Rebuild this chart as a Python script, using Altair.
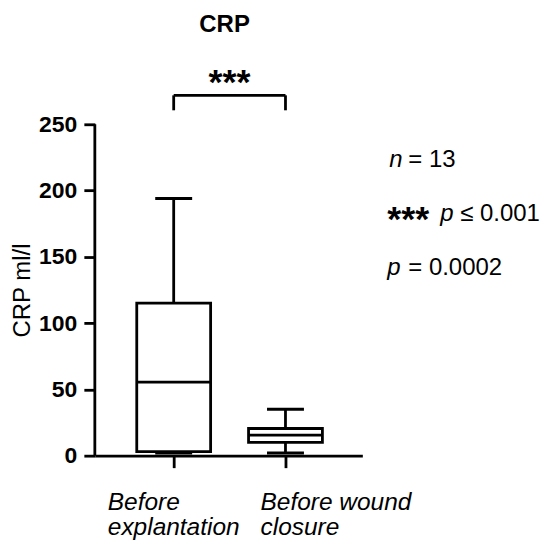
import altair as alt
import pandas as pd

# ---- data ----
groups = ["Before explantation", "Before wound closure"]
label_lines = [["Before", "explantation"], ["Before wound", "closure"]]
mins = [2, 2]
q1s = [3, 10]
medians = [55.5, 15.5]
q3s = [115, 20.5]
maxs = [194, 35]
y_ticks = [0, 50, 100, 150, 200, 250]
title = "CRP"
y_title = "CRP ml/l"
sig_stars = "***"

# ---- layout (pixel geometry) ----
PX_PER_UNIT_Y = 1.328
PLOT_H = 448
Y_MAX = PLOT_H / PX_PER_UNIT_Y
PLOT_W = 268
PX_PER_UNIT_X = 112.0
X0 = 1 - 79 / PX_PER_UNIT_X
X1 = X0 + PLOT_W / PX_PER_UNIT_X
AXIS_PX = 95
BOX_HALF = 37 / PX_PER_UNIT_X
CAP_HALF = 18.5 / PX_PER_UNIT_X
FONT = "Liberation Sans"
FS = 24
FS_TICK = 23
FS_STAR = 36
LW = 2.8


def xd(px):
    return X0 + (px - AXIS_PX) / PX_PER_UNIT_X


def yd(py):
    return (456 - py) / PX_PER_UNIT_Y


pos = [1, 2]
box = pd.DataFrame({
    "group": groups, "c": pos, "lo": mins, "q1": q1s, "med": medians,
    "q3": q3s, "hi": maxs,
})

xscale = alt.Scale(domain=[X0, X1], nice=False, zero=False)
yscale = alt.Scale(domain=[0, Y_MAX], nice=False, zero=False)

base = alt.Chart(box).transform_calculate(
    xl=f"datum.c - {BOX_HALF}", xr=f"datum.c + {BOX_HALF}",
    cl=f"datum.c - {CAP_HALF}", cr=f"datum.c + {CAP_HALF}",
)

axes_layer = base.mark_point(opacity=0).encode(
    x=alt.X("c:Q", scale=xscale, axis=alt.Axis(
        values=pos, labels=False, title=None, grid=False, domainColor="black",
        domainWidth=LW, tickColor="black", tickWidth=LW, tickSize=12)),
    y=alt.Y("med:Q", scale=yscale, axis=alt.Axis(
        values=y_ticks, title=y_title, grid=False, domain=False,
        tickColor="black", tickWidth=LW, tickSize=11, labelPadding=7,
        labelFont=FONT, labelFontSize=FS_TICK, labelFontWeight="bold", labelColor="black",
        titleFont=FONT, titleFontSize=FS, titleFontWeight="normal", titleColor="black",
        titleX=30 - AXIS_PX, titleY=290 - 8, titleAngle=270,
        titleAlign="center", titleBaseline="alphabetic")),
)

yaxis_line = alt.Chart(pd.DataFrame({"a": [0], "b": [y_ticks[-1]]})).mark_rule(
    color="black", strokeWidth=LW).encode(
    x=alt.value(0), y=alt.Y("a:Q", scale=yscale), y2="b:Q")

whisk_hi = base.mark_rule(color="black", strokeWidth=LW).encode(
    x=alt.X("c:Q", scale=xscale), y=alt.Y("q3:Q", scale=yscale), y2="hi:Q")
whisk_lo = base.mark_rule(color="black", strokeWidth=LW).encode(
    x=alt.X("c:Q", scale=xscale), y=alt.Y("lo:Q", scale=yscale), y2="q1:Q")
boxes = base.mark_rect(fill="white", stroke="black", strokeWidth=LW).encode(
    x=alt.X("xl:Q", scale=xscale), x2="xr:Q",
    y=alt.Y("q1:Q", scale=yscale), y2="q3:Q")
med = base.mark_rule(color="black", strokeWidth=LW).encode(
    x=alt.X("xl:Q", scale=xscale), x2="xr:Q", y=alt.Y("med:Q", scale=yscale))
cap_hi = base.mark_rule(color="black", strokeWidth=LW).encode(
    x=alt.X("cl:Q", scale=xscale), x2="cr:Q", y=alt.Y("hi:Q", scale=yscale))
cap_lo = base.mark_rule(color="black", strokeWidth=LW).encode(
    x=alt.X("cl:Q", scale=xscale), x2="cr:Q", y=alt.Y("lo:Q", scale=yscale))

# significance bracket
br_top = yd(95)
br_bot = yd(110)
bracket = pd.DataFrame({
    "x": [pos[0], pos[0], pos[1]], "x2": [pos[1], pos[0], pos[1]],
    "y": [br_top, br_bot, br_bot], "y2": [br_top, br_top, br_top],
})
bracket_layer = alt.Chart(bracket).mark_rule(color="black", strokeWidth=LW).encode(
    x=alt.X("x:Q", scale=xscale), x2="x2:Q", y=alt.Y("y:Q", scale=yscale), y2="y2:Q")

# texts: (text, x px, y px, weight, style, align, size, baseline)
texts = pd.DataFrame([
    {"t": title, "x": xd(225), "y": yd(25), "w": "bold", "s": "normal", "a": "center", "f": FS, "b": "middle"},
    {"t": sig_stars, "x": xd(230), "y": yd(94), "w": "bold", "s": "normal", "a": "center", "f": FS_STAR, "b": "alphabetic"},
    {"t": "n", "x": xd(390), "y": yd(160), "w": "normal", "s": "italic", "a": "left", "f": FS, "b": "middle"},
    {"t": "= 13", "x": xd(409), "y": yd(160), "w": "normal", "s": "normal", "a": "left", "f": FS, "b": "middle"},
    {"t": sig_stars, "x": xd(388), "y": yd(231), "w": "bold", "s": "normal", "a": "left", "f": FS_STAR, "b": "alphabetic"},
    {"t": "p", "x": xd(441), "y": yd(214), "w": "normal", "s": "italic", "a": "left", "f": FS, "b": "middle"},
    {"t": "≤ 0.001", "x": xd(461), "y": yd(214), "w": "normal", "s": "normal", "a": "left", "f": FS, "b": "middle"},
    {"t": "p", "x": xd(388), "y": yd(268), "w": "normal", "s": "italic", "a": "left", "f": FS, "b": "middle"},
    {"t": "= 0.0002", "x": xd(409), "y": yd(268), "w": "normal", "s": "normal", "a": "left", "f": FS, "b": "middle"},
])

# x category labels (two lines each, left aligned)
lab_x = [108, 261]
lab_rows = []
for i, lines in enumerate(label_lines):
    for j, line in enumerate(lines):
        lab_rows.append({"t": line, "x": xd(lab_x[i]), "y": yd(510 + 25 * j), "w": "normal",
                         "s": "italic", "a": "left", "f": 24.5, "b": "alphabetic"})
texts = pd.concat([texts, pd.DataFrame(lab_rows)], ignore_index=True)

text_layers = []
for (w, s, a, f, b), g in texts.groupby(["w", "s", "a", "f", "b"]):
    text_layers.append(alt.Chart(g).mark_text(
        font=FONT, fontSize=f, fontWeight=w, fontStyle=s, align=a,
        baseline=b, color="black").encode(
        x=alt.X("x:Q", scale=xscale), y=alt.Y("y:Q", scale=yscale), text="t:N"))

chart = alt.layer(
    axes_layer, yaxis_line, whisk_hi, whisk_lo, boxes, med, cap_hi, cap_lo,
    bracket_layer, *text_layers,
).properties(
    width=PLOT_W, height=PLOT_H,
    background="white",
    autosize=alt.AutoSizeParams(type="none"),
    padding={"left": AXIS_PX - 8, "top": 0, "right": 180, "bottom": 84},
).configure_view(stroke="transparent", strokeWidth=0)

chart.save("out.html", embed_options={"renderer": "svg", "actions": False})
